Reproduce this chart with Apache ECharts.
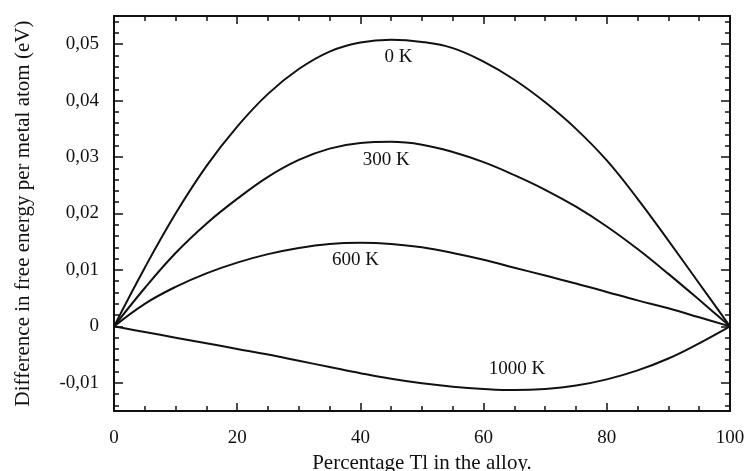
<!DOCTYPE html>
<html>
<head>
<meta charset="utf-8">
<title>Free energy difference vs. Tl percentage</title>
<script src="https://cdn.jsdelivr.net/npm/echarts@6/dist/echarts.min.js"></script>
<style>
  html, body { margin: 0; padding: 0; background: #fff; }
  #chart { width: 746px; height: 471px; }
</style>
</head>
<body>
<div id="chart"></div>
<script>
// Percentage Tl in the alloy
const percentTl = [0, 5, 10, 15, 20, 25, 30, 35, 40, 45, 50, 55, 60, 65, 70, 75, 80, 85, 90, 95, 100];

// Difference in free energy per metal atom (eV) at each temperature
const dG0K = [0, 0.0104, 0.0200, 0.0284, 0.0354, 0.0412, 0.0456, 0.0487, 0.0503, 0.0508, 0.0504,
  0.0493, 0.0469, 0.0437, 0.0397, 0.0350, 0.0294, 0.0226, 0.0152, 0.0076, 0];
const dG300K = [0, 0.0068, 0.0130, 0.0182, 0.0226, 0.0265, 0.0295, 0.0315, 0.0325, 0.0327, 0.0322,
  0.0309, 0.0291, 0.0268, 0.0242, 0.0212, 0.0177, 0.0137, 0.0093, 0.0047, 0];
const dG600K = [0, 0.0040, 0.0070, 0.0094, 0.0113, 0.0128, 0.0139, 0.0146, 0.0148, 0.0146, 0.0140,
  0.0130, 0.0118, 0.0104, 0.0090, 0.0076, 0.0061, 0.0046, 0.0032, 0.0016, 0];
const dG1000K = [0, -0.0010, -0.0020, -0.0030, -0.0040, -0.0050, -0.0061, -0.0072, -0.0083, -0.0093, -0.0101,
  -0.0107, -0.0111, -0.0113, -0.0111, -0.0105, -0.0094, -0.0078, -0.0057, -0.0030, 0];

const curveNames = ['0 K', '300 K', '600 K', '1000 K'];
const curveValues = [dG0K, dG300K, dG600K, dG1000K];

// Where each temperature label sits, in data coordinates [% Tl, eV]
const curveLabelAt = [[46.2, 0.0477], [44.2, 0.0295], [39.2, 0.0117], [65.4, -0.0075]];

// Axis ticks
const xTickLabels = [0, 20, 40, 60, 80, 100];
const yTickLabels = [-0.01, 0, 0.01, 0.02, 0.03, 0.04, 0.05];
const yMinorTicks = [-0.014, -0.012, -0.008, -0.006, -0.004, -0.002, 0.002, 0.004, 0.006, 0.008,
  0.012, 0.014, 0.016, 0.018, 0.022, 0.024, 0.026, 0.028, 0.032, 0.034, 0.036, 0.038,
  0.042, 0.044, 0.046, 0.048, 0.052, 0.054];

const FONT = '"Liberation Serif", "DejaVu Serif", serif';
const INK = '#111';
const Y_MIN = -0.015, Y_MAX = 0.055;
const NUM_SIZE = 19;
const TITLE_SIZE = 21;

const fmtY = v => {
  if (Math.abs(v) < 1e-9) return '0';
  return v.toFixed(2).replace('.', ',');
};

// Fixed plot rectangle; axis names/labels are allowed to sit outside it
const gridBox = { left: 114, right: 16, top: 16, bottom: 60, containLabel: false, outerBoundsMode: 'none' };

const axisLineStyle = { show: true, onZero: false, lineStyle: { color: INK, width: 2 } };
const hiddenLine = { show: false, onZero: false };

function xAxisDef(gridIndex, position, withLabels, withName) {
  return {
    type: 'value', gridIndex, position,
    min: 0, max: 100, interval: 20,
    axisLine: axisLineStyle,
    axisTick: { show: true, inside: true, length: 8, lineStyle: { color: INK, width: 1.5 } },
    minorTick: { show: true, splitNumber: 4, length: 5, lineStyle: { color: INK, width: 1.5 } },
    splitLine: { show: false },
    minorSplitLine: { show: false },
    axisLabel: {
      show: withLabels, margin: 18, color: INK, fontFamily: FONT, fontSize: NUM_SIZE,
      customValues: xTickLabels
    },
    name: withName ? 'Percentage Tl in the alloy.' : '',
    nameLocation: 'middle', nameGap: 42,
    nameTextStyle: { color: INK, fontFamily: FONT, fontSize: TITLE_SIZE }
  };
}

function yAxisDef(gridIndex, position, tickValues, tickLen, withLabels, withName, showLine) {
  return {
    type: 'value', gridIndex, position,
    min: Y_MIN, max: Y_MAX,
    axisLine: showLine ? axisLineStyle : hiddenLine,
    axisTick: { show: true, inside: true, length: tickLen, customValues: tickValues,
      lineStyle: { color: INK, width: 1.5 } },
    splitLine: { show: false },
    axisLabel: {
      show: withLabels, margin: 15, color: INK, fontFamily: FONT, fontSize: NUM_SIZE,
      customValues: yTickLabels, formatter: fmtY
    },
    name: withName ? 'Difference in free energy per metal atom (eV)' : '',
    nameLocation: 'middle', nameGap: 80, nameRotate: 90,
    nameTextStyle: { color: INK, fontFamily: FONT, fontSize: TITLE_SIZE }
  };
}

const series = curveNames.map((name, i) => ({
  name, type: 'line', xAxisIndex: 0, yAxisIndex: 0,
  smooth: 0.4, showSymbol: false, symbol: 'none',
  lineStyle: { color: INK, width: 2 },
  data: percentTl.map((p, k) => [p, curveValues[i][k]]),
  markPoint: {
    symbol: 'circle', symbolSize: 0, silent: true,
    label: { show: true, position: 'inside', color: INK, fontFamily: FONT, fontSize: NUM_SIZE, formatter: name },
    data: [{ coord: curveLabelAt[i] }]
  },
  animation: false
}));

const option = {
  backgroundColor: '#fff',
  animation: false,
  grid: [Object.assign({}, gridBox), Object.assign({}, gridBox)],
  xAxis: [
    xAxisDef(0, 'bottom', true, true),
    xAxisDef(0, 'top', false, false),
    { type: 'value', gridIndex: 1, min: 0, max: 100, show: false }
  ],
  yAxis: [
    yAxisDef(0, 'left', yTickLabels, 9, true, true, true),
    yAxisDef(0, 'right', yTickLabels, 9, false, false, true),
    yAxisDef(1, 'left', yMinorTicks, 5, false, false, false),
    yAxisDef(1, 'right', yMinorTicks, 5, false, false, false)
  ],
  series
};

const chart = echarts.init(document.getElementById('chart'), null, { renderer: 'canvas' });
chart.setOption(option);
</script>
</body>
</html>
